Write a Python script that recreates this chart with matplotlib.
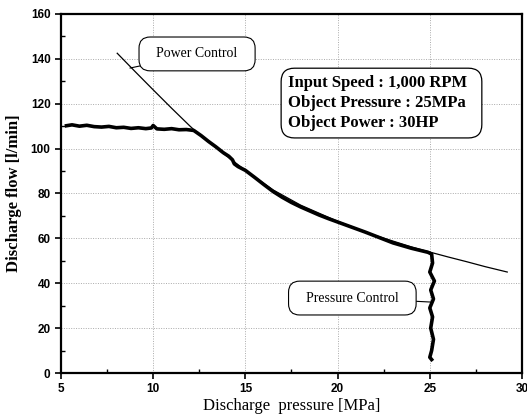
import matplotlib
matplotlib.use('Agg')
import matplotlib.pyplot as plt
from matplotlib.ticker import MultipleLocator

meas_p = [5.3, 5.6, 6.0, 6.4, 6.8, 7.2, 7.6, 8.0, 8.4, 8.8, 9.2, 9.6, 9.9, 10.0,
          10.2, 10.6, 11.0, 11.4, 11.8, 12.2, 12.6, 13.0, 13.4, 13.8, 14.1, 14.3,
          14.4, 14.6, 15.0, 15.5, 16.0, 16.5, 17.0, 17.5, 18.0, 18.5, 19.0, 19.5,
          20.0, 20.5, 21.0, 21.5, 22.0, 22.5, 23.0, 23.5, 24.0, 24.5, 24.9, 25.1,
          25.15, 25.0, 25.25, 25.05, 25.2, 25.0, 25.15, 25.05, 25.2, 25.1, 25.0, 25.1]
meas_q = [110.2, 110.6, 110.0, 110.4, 109.8, 109.6, 109.9, 109.3, 109.5, 109.0,
          109.3, 108.9, 109.2, 110.3, 108.8, 108.6, 108.9, 108.4, 108.5, 108.1,
          105.8, 103.2, 100.8, 98.2, 96.6, 95.0, 93.2, 92.0, 90.3, 87.2, 84.0,
          80.9, 78.3, 76.0, 74.0, 72.2, 70.4, 68.8, 67.3, 65.8, 64.3, 62.8, 61.2,
          59.6, 58.0, 56.8, 55.6, 54.6, 53.8, 53.0,
          49.0, 45.0, 41.0, 37.0, 33.0, 29.0, 25.0, 20.0, 15.0, 10.0, 7.0, 6.0]

# power control line
pc_p = [8.05, 9.0, 10.0, 11.0, 12.0, 12.6, 13.5, 15.0, 16.5, 18.0, 20.0, 22.0,
        24.0, 25.0, 26.0, 27.0, 28.0, 29.2]
pc_q = [142.5, 134.5, 126.2, 118.0, 110.0, 105.5, 99.8, 90.3, 81.6, 74.8, 67.6,
        61.4, 56.2, 53.9, 51.7, 49.6, 47.4, 45.0]

info_lines = ['Input Speed : 1,000 RPM  ', 'Object Pressure : 25MPa', 'Object Power : 30HP']

serif = 'Liberation Serif'
sans = 'Liberation Sans'

fig = plt.figure(figsize=(5.27, 4.2), dpi=100)
ax = fig.add_axes([0.1157, 0.1119, 0.8748, 0.8548])

ax.plot(pc_p, pc_q, color='black', lw=0.9)
ax.plot(meas_p, meas_q, color='black', lw=2.6, solid_joinstyle='round')

ax.set_xlim(5, 30)
ax.set_ylim(0, 160)
ax.xaxis.set_major_locator(MultipleLocator(5))
ax.xaxis.set_minor_locator(MultipleLocator(2.5))
ax.yaxis.set_major_locator(MultipleLocator(20))
ax.yaxis.set_minor_locator(MultipleLocator(10))
ax.tick_params(which='major', direction='out', length=4, width=1.2)
ax.tick_params(which='minor', direction='in', length=3, width=1)
for lab in ax.get_xticklabels() + ax.get_yticklabels():
    lab.set_fontfamily(sans)
    lab.set_fontweight('bold')
    lab.set_fontsize(8.5)
for s in ax.spines.values():
    s.set_linewidth(1.6)

ax.grid(True, which='major', color='#aaaaaa', ls=(0, (1, 1.5)), lw=0.7)

ax.set_xlabel('Discharge  pressure [MPa]', family=serif, fontsize=12, labelpad=2)
ax.set_ylabel('Discharge flow [l/min]', family=serif, fontsize=12, fontweight='bold', labelpad=6)

box = dict(boxstyle='round,pad=0.75,rounding_size=0.8', fc='white', ec='black', lw=0.8)
ax.annotate('  Power Control  ', xy=(8.74, 135.9), xytext=(12.38, 142.2),
            family=serif, fontsize=10, ha='center', va='center', bbox=box,
            arrowprops=dict(arrowstyle='-', color='black', lw=0.8, shrinkA=0, shrinkB=0))
ax.annotate('  Pressure Control  ', xy=(25.1, 31.6), xytext=(20.8, 33.4),
            family=serif, fontsize=10, ha='center', va='center', bbox=box,
            arrowprops=dict(arrowstyle='-', color='black', lw=0.8, shrinkA=0, shrinkB=0))

ax.text(17.3, 120.3, '\n'.join(info_lines), family=serif, fontsize=12,
        fontweight='bold', ha='left', va='center', linespacing=1.35,
        bbox=dict(boxstyle='round,pad=0.4,rounding_size=0.8', fc='white', ec='black', lw=0.9))

fig.savefig('out.png', dpi=100)
